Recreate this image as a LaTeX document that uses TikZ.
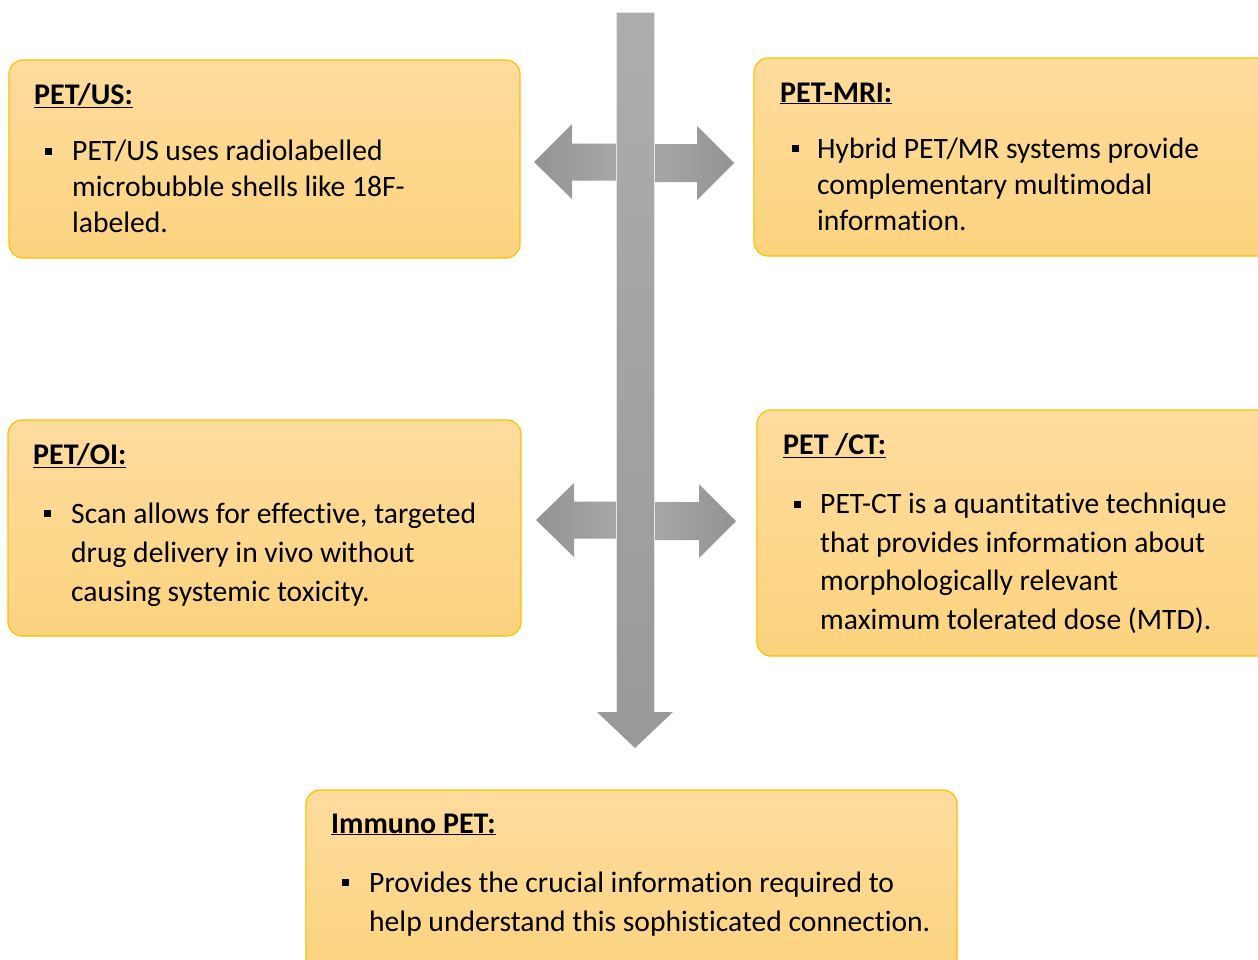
\documentclass[tikz,border=0pt]{standalone}
\usepackage{fontspec}
\setmainfont{Carlito}[RawFeature={-liga;-clig;-calt;-dlig}]
\definecolor{boxline}{HTML}{FFC000}
\definecolor{boxtop}{HTML}{FEDC9E}
\definecolor{boxbot}{HTML}{FCD37E}
\definecolor{arrlight}{HTML}{ABABAB}
\definecolor{arrdark}{HTML}{939393}
\definecolor{shafttop}{HTML}{ADADAD}
\definecolor{shaftbot}{HTML}{999999}
\tikzset{
  box/.style={draw=boxline, line width=1.2pt, rounded corners=14pt, top color=boxtop, bottom color=boxbot, inner sep=0pt},
  headtxt/.style={anchor=base west, inner sep=0pt, font=\fontsize{30}{36}\selectfont\bfseries},
  bodytxt/.style={anchor=base west, inner sep=0pt, align=left},
  bul/.style={fill=black, minimum size=7pt, inner sep=0pt},
}
\begin{document}
\begin{tikzpicture}[x=1pt,y=-1pt]
\clip (0,0) rectangle (1258,959);
\fill[white] (0,0) rectangle (1258,959);

% boxes
\node[box, minimum width=511pt, minimum height=198pt] (us) at (264.5,159) {};
\node[box, minimum width=524pt, minimum height=198pt] (mri) at (1016,157) {};
\node[box, minimum width=513pt, minimum height=216pt] (oi) at (264.5,528) {};
\node[box, minimum width=521pt, minimum height=246pt] (ct) at (1017.5,533) {};
\node[box, minimum width=651pt, minimum height=190pt] (im) at (631.5,885) {};

% horizontal double arrows (upper)
\shade[left color=arrdark, right color=arrlight] (534,162) -- (572,124) -- (572,143.5) -- (635,143.5) -- (635,180.5) -- (572,180.5) -- (572,199) -- cycle;
\shade[left color=arrlight, right color=arrdark] (635,144) -- (697,144) -- (697,126) -- (734,163) -- (697,200) -- (697,182) -- (635,182) -- cycle;
% horizontal double arrows (lower)
\shade[left color=arrdark, right color=arrlight] (536,520) -- (574,483) -- (574,501.5) -- (635,501.5) -- (635,538.5) -- (574,538.5) -- (574,557) -- cycle;
\shade[left color=arrlight, right color=arrdark] (635,502) -- (699,502) -- (699,484) -- (736,521) -- (699,558) -- (699,540) -- (635,540) -- cycle;

% vertical arrow
\shade[top color=shafttop, bottom color=shaftbot] (616,12) -- (654,12) -- (654,712) -- (673,712) -- (635,748) -- (597,712) -- (616,712) -- cycle;
\draw[white!80!gray, line width=0.5pt] (616,712) -- (616,12) -- (654,12) -- (654,712);

% PET/US
\node[headtxt] (ush) at (34,104) {\underline{PET/US:}};
\node[bul] (usb) at (48,151) {};
\node[bodytxt, font=\fontsize{29.6}{36}\selectfont] (ust) at (72,232) {PET/US uses radiolabelled\\microbubble shells like 18F-\\labeled.};

% PET-MRI
\node[headtxt] (mrih) at (780,102) {\underline{PET-MRI:}};
\node[bul] (mrib) at (795,148) {};
\node[bodytxt, font=\fontsize{29.6}{36}\selectfont] (mrit) at (817,230) {Hybrid PET/MR systems provide\\complementary multimodal\\information.};

% PET/OI
\node[headtxt] (oih) at (33,464) {\underline{PET/OI:}};
\node[bul] (oib) at (47,513) {};
\node[bodytxt, font=\fontsize{29.6}{39}\selectfont] (oit) at (71,601) {Scan allows for effective, targeted\\drug delivery in vivo without\\causing systemic toxicity.};

% PET/CT
\node[headtxt] (cth) at (783,454) {\underline{PET /CT:}};
\node[bul] (ctb) at (797,504) {};
\node[bodytxt, font=\fontsize{29.6}{38.4}\selectfont] (ctt) at (820,629) {PET-CT is a quantitative technique\\that provides information about\\morphologically relevant\\maximum tolerated dose (MTD).};

% Immuno PET
\node[headtxt] (imh) at (331,833) {\underline{Immuno PET:}};
\node[bul] (imb) at (345,882) {};
\node[bodytxt, font=\fontsize{29.6}{39}\selectfont] (imt) at (369,931) {Provides the crucial information required to\\help understand this sophisticated connection.};
\end{tikzpicture}
\end{document}
